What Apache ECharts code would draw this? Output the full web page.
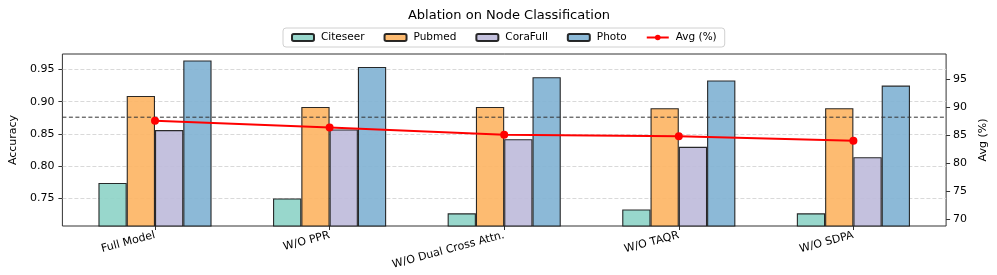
<!DOCTYPE html>
<html>
<head>
<meta charset="utf-8">
<script src="https://cdn.jsdelivr.net/npm/echarts@6/dist/echarts.min.js"></script>
<style>html,body{margin:0;padding:0;background:#fff;}#c{width:997px;height:275px;}</style>
</head>
<body>
<div id="c"></div>
<script>
const categories = ['Full Model', 'W/O PPR', 'W/O Dual Cross Attn.', 'W/O TAQR', 'W/O SDPA'];
const citeseer = [0.774, 0.750, 0.727, 0.733, 0.727];
const pubmed   = [0.909, 0.892, 0.892, 0.890, 0.890];
const corafull = [0.856, 0.857, 0.842, 0.830, 0.814];
const photo    = [0.964, 0.954, 0.938, 0.933, 0.925];
const avgPct   = [87.6, 86.4, 85.1, 84.8, 84.0];
const fullModelMean = 0.876;
const leftTicks  = [0.75, 0.80, 0.85, 0.90, 0.95];
const rightTicks = [70, 75, 80, 85, 90, 95];
const leftRange  = [0.7073, 0.974];
const rightRange = [68.8, 99.5];

const FONT = 'DejaVu Sans';
const chart = echarts.init(document.getElementById('c'), null, {renderer: 'canvas'});

function barSeries(name, data, color) {
  return {
    name, type: 'bar', data, xAxisIndex: 1, yAxisIndex: 2,
    barWidth: '16.2%', barGap: '0%',
    itemStyle: {color, borderColor: 'rgba(20,20,20,0.9)', borderWidth: 1.1},
    emphasis: {disabled: true}, z: 2
  };
}

chart.setOption({
  animation: false,
  backgroundColor: '#fff',
  title: {
    text: 'Ablation on Node Classification',
    left: 504, textAlign: 'center', top: 4,
    textStyle: {fontFamily: FONT, fontSize: 13, fontWeight: 'normal', color: '#000'}
  },
  legend: {
    left: 283, top: 28,
    padding: [4, 8, 4, 8],
    itemGap: 19, itemWidth: 22, itemHeight: 7,
    borderColor: '#d0d0d0', borderWidth: 1, borderRadius: 3,
    textStyle: {fontFamily: FONT, fontSize: 10.5, color: '#000', padding: [0, 0, 0, 2]},
    data: ['Citeseer', 'Pubmed', 'CoraFull', 'Photo', 'Avg (%)']
  },
  grid: [
    {left: 58, right: 47, top: 54, bottom: 49, show: true, borderColor: '#333', borderWidth: 1, backgroundColor: 'transparent'},
    {left: 67.7, right: 56.3, top: 54, bottom: 49}
  ],
  xAxis: [
    {type: 'value', gridIndex: 0, min: 0, max: 1, show: false},
    {
      type: 'category', gridIndex: 1, data: categories,
      axisLine: {show: false},
      axisTick: {show: true, alignWithLabel: true, length: 4, lineStyle: {color: '#333'}},
      axisLabel: {rotate: 15, margin: 9, fontFamily: FONT, fontSize: 11, color: '#000', interval: 0},
      splitLine: {show: false}
    }
  ],
  yAxis: [
    {
      type: 'value', gridIndex: 0, position: 'left', min: leftRange[0], max: leftRange[1],
      name: 'Accuracy', nameLocation: 'middle', nameGap: 40, nameRotate: 90,
      nameTextStyle: {fontFamily: FONT, fontSize: 11, color: '#000'},
      axisLine: {show: false},
      axisTick: {show: true, length: 4, lineStyle: {color: '#333'}, customValues: leftTicks},
      axisLabel: {fontFamily: FONT, fontSize: 11, color: '#000', margin: 8, customValues: leftTicks,
                  formatter: v => v.toFixed(2)},
      splitLine: {show: true, lineStyle: {color: '#d9d9d9', type: [4, 2], width: 1}}
    },
    {
      type: 'value', gridIndex: 0, position: 'right', min: rightRange[0], max: rightRange[1],
      name: 'Avg (%)', nameLocation: 'middle', nameGap: 28, nameRotate: 90,
      nameTextStyle: {fontFamily: FONT, fontSize: 11, color: '#000'},
      axisLine: {show: false},
      axisTick: {show: true, length: 4, lineStyle: {color: '#333'}, customValues: rightTicks},
      axisLabel: {fontFamily: FONT, fontSize: 11, color: '#000', margin: 7, customValues: rightTicks},
      splitLine: {show: false}
    },
    {type: 'value', gridIndex: 1, min: leftRange[0], max: leftRange[1], show: false},
    {type: 'value', gridIndex: 1, min: rightRange[0], max: rightRange[1], show: false, position: 'right'}
  ],
  series: [
    barSeries('Citeseer', citeseer, 'rgba(141,211,199,0.9)'),
    barSeries('Pubmed', pubmed, 'rgba(253,180,98,0.9)'),
    barSeries('CoraFull', corafull, 'rgba(190,186,218,0.9)'),
    barSeries('Photo', photo, 'rgba(128,177,211,0.9)'),
    {
      name: 'Avg (%)', type: 'line', data: avgPct, xAxisIndex: 1, yAxisIndex: 3,
      symbol: 'circle', symbolSize: 8,
      lineStyle: {color: '#ff0000', width: 2},
      itemStyle: {color: '#ff0000'},
      emphasis: {disabled: true}, z: 5
    },
    {
      name: 'ref', type: 'line', data: [[0, fullModelMean], [1, fullModelMean]], xAxisIndex: 0, yAxisIndex: 0,
      symbol: 'none', silent: true,
      lineStyle: {color: '#333', type: [4, 2.5], width: 1},
      emphasis: {disabled: true},
      z: 4
    }
  ]
});
</script>
</body>
</html>
